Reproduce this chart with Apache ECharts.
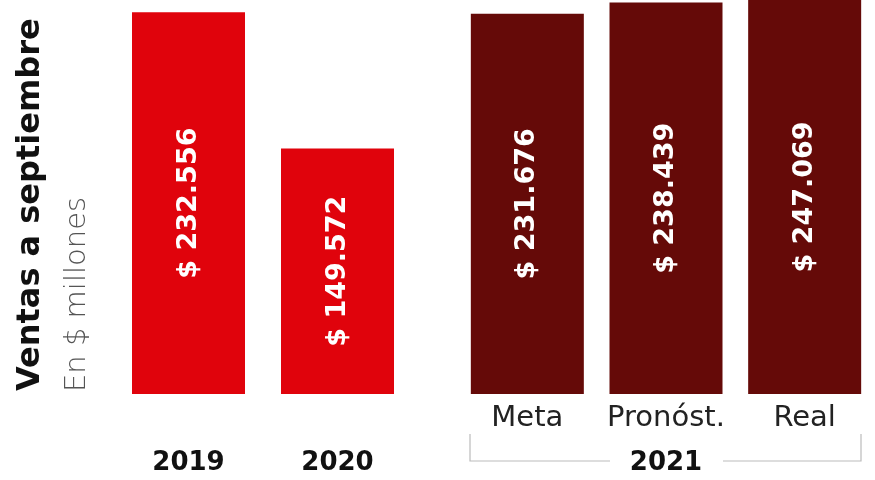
<!DOCTYPE html>
<html><head><meta charset="utf-8">
<script src="https://cdn.jsdelivr.net/npm/echarts@6/dist/echarts.min.js"></script>
<style>html,body{margin:0;padding:0;background:#fff}#c{width:875px;height:480px}</style>
</head><body><div id="c"></div>
<script>
const yearsPast = ['2019', '2020'];
const valuesPast = [232556, 149572];
const cats2021 = ['Meta', 'Pronóst.', 'Real'];
const values2021 = [231676, 238439, 247069];
const groupLabel2021 = '2021';
const yTitle = 'Ventas a septiembre';
const ySubtitle = 'En $ millones';

const FONT = '"DejaVu Sans", sans-serif';
function fmt(v) { return '$ ' + String(v).replace(/\B(?=(\d{3})+(?!\d))/g, '.'); }

const chart = echarts.init(document.getElementById('c'));
const labelStyle = {
  show: true, position: 'inside', rotate: 90, color: '#fff',
  fontFamily: FONT, fontWeight: 'bold', fontSize: 27,
  formatter: p => fmt(p.value)
};
chart.setOption({
  backgroundColor: '#fff',
  animation: false,
  grid: [
    { left: 114, width: 298, top: 0, bottom: 86 },
    { left: 458, width: 416, top: 0, bottom: 86 }
  ],
  xAxis: [
    { type: 'category', gridIndex: 0, data: yearsPast,
      axisLine: { show: false }, axisTick: { show: false },
      axisLabel: { interval: 0, margin: 56, color: '#111', fontFamily: FONT, fontWeight: 'bold', fontSize: 26 } },
    { type: 'category', gridIndex: 1, data: cats2021,
      axisLine: { show: false }, axisTick: { show: false },
      axisLabel: { interval: 0, hideOverlap: false, margin: 10, color: '#222', fontFamily: FONT, fontWeight: 'normal', fontSize: 29 } }
  ],
  yAxis: [
    { type: 'value', gridIndex: 0, min: 0, max: 240000, show: false },
    { type: 'value', gridIndex: 1, min: 0, max: 240000, show: false }
  ],
  series: [
    { type: 'bar', xAxisIndex: 0, yAxisIndex: 0, data: valuesPast, barWidth: 113,
      itemStyle: { color: '#E0030C' }, label: labelStyle },
    { type: 'bar', xAxisIndex: 1, yAxisIndex: 1, data: values2021, barWidth: 113, clip: true,
      itemStyle: { color: '#650A08' }, label: labelStyle }
  ],
  graphic: [
    { type: 'text', x: 31, y: 391, rotation: Math.PI / 2,
      style: { text: yTitle, fill: '#111', font: 'bold 32px ' + FONT, textAlign: 'left', textVerticalAlign: 'middle' } },
    { type: 'text', x: 77, y: 392, rotation: Math.PI / 2,
      style: { text: ySubtitle, fill: '#555', font: '200 29px ' + FONT, textAlign: 'left', textVerticalAlign: 'middle' } },
    { type: 'polyline', shape: { points: [[470, 434], [470, 461], [610, 461]] },
      style: { stroke: '#bbb', lineWidth: 1.2, fill: null } },
    { type: 'polyline', shape: { points: [[723, 461], [861, 461], [861, 434]] },
      style: { stroke: '#bbb', lineWidth: 1.2, fill: null } },
    { type: 'text', x: 666, y: 463,
      style: { text: groupLabel2021, fill: '#111', font: 'bold 26px ' + FONT, textAlign: 'center', textVerticalAlign: 'middle' } }
  ]
});
</script></body></html>
